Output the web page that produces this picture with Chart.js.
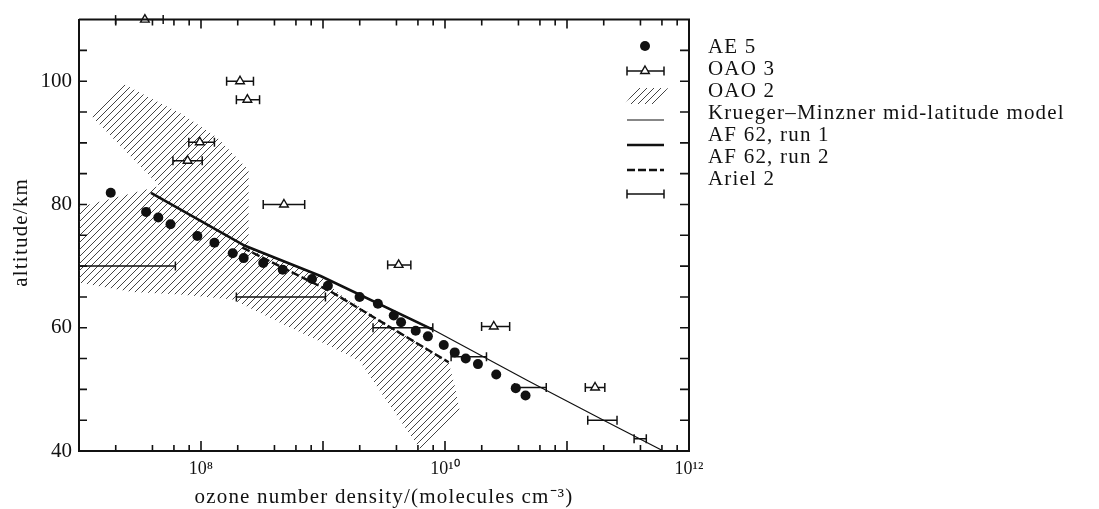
<!DOCTYPE html>
<html>
<head>
<meta charset="utf-8">
<script src="https://cdn.jsdelivr.net/npm/chart.js"></script>
<style>
  html, body { margin: 0; padding: 0; background: #fff; }
  #grafica { display: block; }
</style>
</head>
<body>
<canvas id="grafica" width="1099" height="509"></canvas>
<script>
// Datos: densidad como log10(moléculas cm^-3), altitud en km
var ae5LogN = [7.26, 7.55, 7.65, 7.75, 7.97, 8.11, 8.26, 8.35, 8.51, 8.67, 8.91, 9.04, 9.30, 9.45,
               9.58, 9.64, 9.76, 9.86, 9.99, 10.08, 10.17, 10.27, 10.42, 10.58, 10.66];
var ae5Alt = [81.9, 78.8, 77.9, 76.8, 74.9, 73.8, 72.1, 71.3, 70.5, 69.4, 67.9, 66.8, 65.0, 63.9,
              62.0, 60.9, 59.5, 58.6, 57.2, 56.0, 55.0, 54.1, 52.4, 50.2, 49.0];

var oao3LogN = [7.54, 8.32, 8.38, 7.99, 7.89, 8.68, 9.62, 10.40, 11.23];
var oao3Lo = [7.30, 8.21, 8.29, 7.90, 7.77, 8.51, 9.53, 10.30, 11.15];
var oao3Hi = [7.69, 8.43, 8.48, 8.11, 8.01, 8.85, 9.72, 10.53, 11.31];
var oao3Alt = [110, 100, 97, 90.1, 87.1, 80, 70.2, 60.2, 50.3];

var ariel2Lo = [6.9, 8.29, 9.41, 10.05, 10.57, 11.17, 11.55];
var ariel2Hi = [7.79, 9.02, 9.90, 10.34, 10.83, 11.41, 11.65];
var ariel2Alt = [70, 65, 60, 55.3, 50.3, 45, 42];

var kmLogN = [8.36, 8.98, 9.90, 10.68, 11.30, 11.79];
var kmAlt = [73.3, 68.4, 59.7, 51.4, 45.0, 40];

var run1LogN = [7.59, 8.36, 8.98, 9.90];
var run1Alt = [81.9, 73.3, 68.4, 59.7];

var run2LogN = [8.34, 9.07, 10.03];
var run2Alt = [73.0, 65.8, 54.4];

// contorno de la zona rayada OAO 2
var oao2LogN = [7.09, 7.35, 7.58, 7.85, 8.13, 8.39, 8.39, 8.39, 8.39, 8.98, 9.14, 10.03, 10.08, 10.12,
                9.80, 9.52, 9.30, 9.06, 8.67, 8.26, 7.83, 7.44, 6.97, 6.97, 7.66];
var oao2Alt = [94.6, 99.7, 97.3, 94.6, 90.9, 85.6, 79.4, 73.8, 73.0, 68.3, 65.4, 54.4, 50.6, 46.6,
               40.2, 48.2, 54.6, 57.0, 60.6, 64.6, 65.4, 65.8, 67.4, 79.4, 83.0];

var xTickExp = [7, 8, 9, 10, 11, 12];
var xMinorMult = [2, 4, 6, 8];
var xLabelExp = [8, 10, 12];
var yTickVals = [40, 45, 50, 55, 60, 65, 70, 75, 80, 85, 90, 95, 100, 105, 110];
var yLabelVals = [40, 60, 80, 100];

var legendLabels = ['AE 5', 'OAO 3', 'OAO 2', 'Krueger–Minzner mid-latitude model',
                    'AF 62, run 1', 'AF 62, run 2', 'Ariel 2'];

var serif = '"Liberation Serif", "Times New Roman", serif';
var tinta = '#111';

function pts(logs, alts) {
  return logs.map(function (l, i) { return {x: Math.pow(10, l), y: alts[i]}; });
}

function barras(lo, hi, alts) {
  var out = [];
  alts.forEach(function (a, i) {
    out.push({x: Math.pow(10, lo[i]), y: a}, {x: Math.pow(10, hi[i]), y: a}, {x: null, y: null});
  });
  return out;
}

var sups = '⁰¹²³⁴⁵⁶⁷⁸⁹';
function sup(n) {
  return String(n).split('').map(function (d) { return sups[+d]; }).join('');
}

// patrón de rayas para OAO 2
var tile = document.createElement('canvas');
tile.width = 7; tile.height = 7;
var t = tile.getContext('2d');
t.strokeStyle = '#222';
t.lineWidth = 0.85;
t.beginPath();
t.moveTo(-1, 8); t.lineTo(8, -1);
t.moveTo(-1, 1); t.lineTo(1, -1);
t.moveTo(6, 8); t.lineTo(8, 6);
t.stroke();

var ctx = document.getElementById('grafica').getContext('2d');
var rayado = ctx.createPattern(tile, 'repeat');

var errStyle = {
  showLine: true, borderColor: tinta, borderWidth: 1.5,
  pointStyle: 'line', rotation: 90, pointRadius: 4.5, pointBorderWidth: 1.5,
  pointBorderColor: tinta, pointBackgroundColor: tinta
};

var datasets = [
  {label: 'AE 5', data: pts(ae5LogN, ae5Alt), pointStyle: 'circle', pointRadius: 5,
   backgroundColor: tinta, borderColor: tinta, borderWidth: 0},
  {label: 'OAO 3', data: pts(oao3LogN, oao3Alt), pointStyle: 'triangle', pointRadius: 5,
   backgroundColor: '#fff', borderColor: tinta, borderWidth: 1.4, clip: false},
  Object.assign({label: 'OAO 3 barras', data: barras(oao3Lo, oao3Hi, oao3Alt), clip: false}, errStyle),
  Object.assign({label: 'Ariel 2', data: barras(ariel2Lo, ariel2Hi, ariel2Alt)}, errStyle),
  {label: 'AF 62, run 1', data: pts(run1LogN, run1Alt), showLine: true, borderColor: tinta,
   borderWidth: 2.6, pointRadius: 0},
  {label: 'AF 62, run 2', data: pts(run2LogN, run2Alt), showLine: true, borderColor: tinta,
   borderWidth: 2.4, borderDash: [8, 3], pointRadius: 0},
  {label: 'Krueger–Minzner', data: pts(kmLogN, kmAlt), showLine: true, borderColor: tinta,
   borderWidth: 1.2, pointRadius: 0},
  {label: 'OAO 2', data: pts(oao2LogN, oao2Alt), showLine: true, borderWidth: 0,
   borderColor: 'rgba(0,0,0,0)', pointRadius: 0, fill: 'shape', backgroundColor: rayado}
];

// marco superior/derecho y marcas hacia dentro
var marco = {
  id: 'marco',
  afterDatasetsDraw: function (chart) {
    var c = chart.ctx, a = chart.chartArea, x = chart.scales.x, y = chart.scales.y;
    c.save();
    c.strokeStyle = tinta;
    c.lineWidth = 2;
    c.beginPath();
    c.moveTo(a.left, a.top); c.lineTo(a.right, a.top); c.lineTo(a.right, a.bottom);
    c.stroke();

    c.lineWidth = 1.6;
    c.beginPath();
    xTickExp.forEach(function (e) {
      var px = x.getPixelForValue(Math.pow(10, e));
      if (e > xTickExp[0] && e < xTickExp[xTickExp.length - 1]) {
        c.moveTo(px, a.bottom); c.lineTo(px, a.bottom - 10);
        c.moveTo(px, a.top); c.lineTo(px, a.top + 9);
      }
      if (e < xTickExp[xTickExp.length - 1]) {
        xMinorMult.forEach(function (m) {
          var pm = x.getPixelForValue(m * Math.pow(10, e));
          c.moveTo(pm, a.bottom); c.lineTo(pm, a.bottom - 6);
          c.moveTo(pm, a.top); c.lineTo(pm, a.top + 6);
        });
      }
    });
    yTickVals.forEach(function (v) {
      if (v === 40 || v === 110) return;
      var py = y.getPixelForValue(v);
      c.moveTo(a.left, py); c.lineTo(a.left + 8, py);
      c.moveTo(a.right, py); c.lineTo(a.right - 9, py);
    });
    c.stroke();
    c.restore();
  },
  afterDraw: function (chart) {
    var c = chart.ctx, a = chart.chartArea;
    c.save();
    c.fillStyle = tinta;
    c.strokeStyle = tinta;
    c.font = '21px ' + serif;
    c.letterSpacing = '1.2px';

    // títulos de ejes
    c.textAlign = 'center';
    c.textBaseline = 'alphabetic';
    c.fillText('ozone number density/(molecules cm⁻³)', (a.left + a.right) / 2, 503);
    c.save();
    c.translate(27, (a.top + a.bottom) / 2 - 3);
    c.rotate(-Math.PI / 2);
    c.fillText('altitude/km', 0, 0);
    c.restore();

    // leyenda: textos
    c.textAlign = 'left';
    c.textBaseline = 'middle';
    legendLabels.forEach(function (txt, i) {
      c.fillText(txt, 708, 47 + 22 * i);
    });
    c.letterSpacing = '0px';

    // leyenda: símbolos
    var sx = 645, x0 = 627, x1 = 664;
    var sy = [46, 71, 96, 120, 145, 170, 194];
    c.beginPath(); c.arc(sx, sy[0], 5, 0, Math.PI * 2); c.fill();

    c.lineWidth = 1.5;
    c.beginPath();
    [sy[1], sy[6]].forEach(function (yy) {
      c.moveTo(x0, yy); c.lineTo(x1, yy);
      c.moveTo(x0, yy - 4.5); c.lineTo(x0, yy + 4.5);
      c.moveTo(x1, yy - 4.5); c.lineTo(x1, yy + 4.5);
    });
    c.stroke();
    c.beginPath();
    c.moveTo(sx, sy[1] - 5); c.lineTo(sx + 4.3, sy[1] + 2.5); c.lineTo(sx - 4.3, sy[1] + 2.5); c.closePath();
    c.fillStyle = '#fff'; c.fill(); c.lineWidth = 1.4; c.stroke();

    c.fillStyle = rayado;
    c.beginPath();
    c.moveTo(x0 - 2, sy[2] + 8); c.lineTo(x0 + 10, sy[2] - 8); c.lineTo(x1 + 4, sy[2] - 8); c.lineTo(x1 - 8, sy[2] + 8);
    c.closePath(); c.fill();

    c.lineWidth = 1.2;
    c.beginPath(); c.moveTo(x0, sy[3]); c.lineTo(x1, sy[3]); c.stroke();
    c.lineWidth = 2.6;
    c.beginPath(); c.moveTo(x0, sy[4]); c.lineTo(x1, sy[4]); c.stroke();
    c.setLineDash([8, 3]);
    c.beginPath(); c.moveTo(x0, sy[5]); c.lineTo(x1, sy[5]); c.stroke();
    c.restore();
  }
};

var miGrafica = new Chart(ctx, {
  type: 'scatter',
  data: {datasets: datasets},
  plugins: [marco],
  options: {
    responsive: false,
    animation: false,
    events: [],
    layout: {padding: {top: 15, right: 410, bottom: 0, left: 0}},
    plugins: {legend: {display: false}, tooltip: {enabled: false}},
    scales: {
      x: {
        type: 'logarithmic', position: 'bottom', min: 1e7, max: 1e12,
        afterBuildTicks: function (s) {
          s.ticks = xTickExp.map(function (e) { return {value: Math.pow(10, e)}; });
        },
        afterFit: function (s) { s.height = 58; },
        grid: {display: false, drawTicks: false},
        border: {display: true, color: tinta, width: 2},
        ticks: {
          autoSkip: false, maxRotation: 0, padding: 7, color: tinta,
          font: {family: serif, size: 18},
          callback: function (v) {
            var e = Math.round(Math.log10(v));
            return xLabelExp.indexOf(e) >= 0 ? '10' + sup(e) : '';
          }
        }
      },
      y: {
        type: 'linear', position: 'left', min: 40, max: 110,
        afterBuildTicks: function (s) {
          s.ticks = yTickVals.map(function (v) { return {value: v}; });
        },
        afterFit: function (s) { s.width = 79; },
        grid: {display: false, drawTicks: false},
        border: {display: true, color: tinta, width: 2},
        ticks: {
          autoSkip: false, padding: 7, color: tinta,
          font: {family: serif, size: 21},
          callback: function (v) { return yLabelVals.indexOf(v) >= 0 ? String(v) : ''; }
        }
      }
    }
  }
});
</script>
</body>
</html>
